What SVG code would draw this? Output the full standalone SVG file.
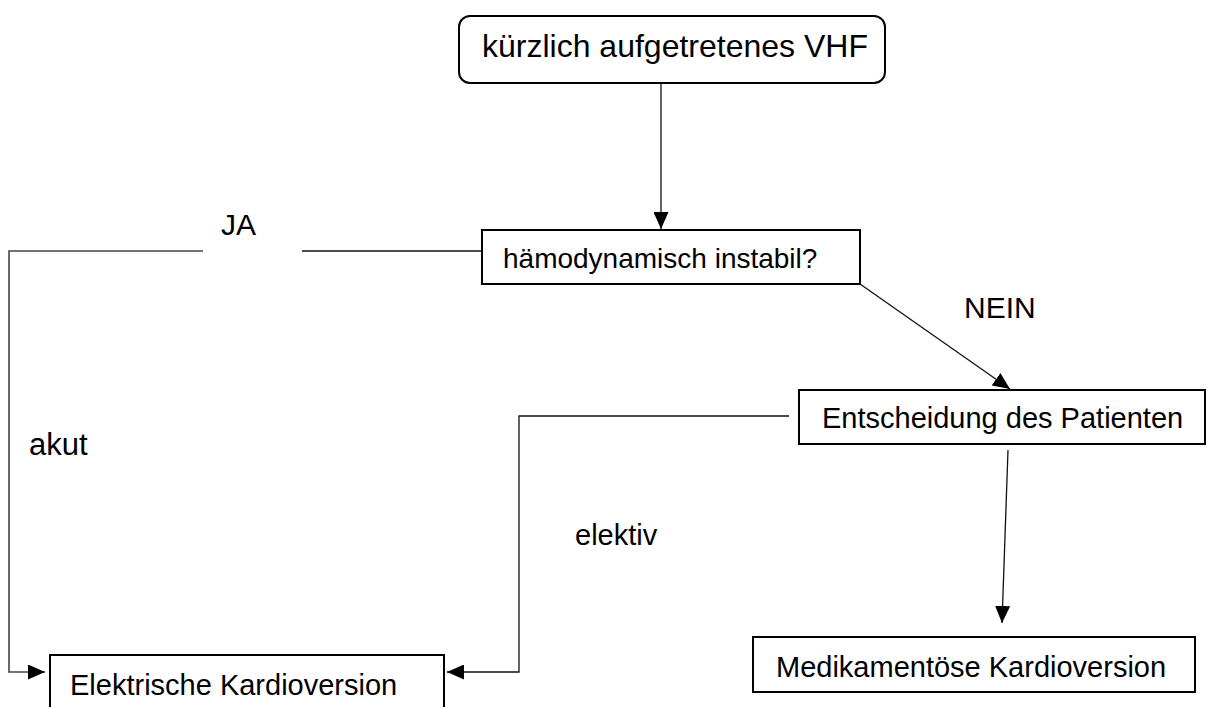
<svg xmlns="http://www.w3.org/2000/svg" width="1214" height="707" viewBox="0 0 1214 707">
<style>
.box{fill:#fff;stroke:#000;stroke-width:2}
.t{font-family:"Liberation Sans",Arial,sans-serif;font-size:29px;fill:#000}
.c{fill:none;stroke:#111;stroke-width:1.3}
</style>
<defs>
<marker id="ah" markerUnits="userSpaceOnUse" markerWidth="17" markerHeight="15" viewBox="0 0 17 15" refX="17" refY="7.5" orient="auto">
<path d="M0,0 L17,7.5 L0,15 z" fill="#000"/>
</marker>
</defs>
<rect width="1214" height="707" fill="#fff"/>
<g id="connectors">
<line class="c" x1="661" y1="84" x2="661" y2="229" marker-end="url(#ah)"/>
<line class="c" x1="860" y1="284" x2="1010" y2="389" marker-end="url(#ah)"/>
<line class="c" x1="1008" y1="450" x2="1002" y2="623" marker-end="url(#ah)"/>
<line class="c" x1="482" y1="251" x2="302" y2="251"/>
<polyline class="c" points="203,251 9,251 9,672 45,672" marker-end="url(#ah)" style="stroke:#444;stroke-width:1.6"/>
<polyline class="c" points="789,416 519,416 519,672 447,672" marker-end="url(#ah)"/>
</g>
<g id="n-vhf">
<rect class="box" x="459" y="16" width="426" height="67" rx="11"/>
<text class="t" x="482" y="57" style="font-size:32px">kürzlich aufgetretenes VHF</text>
</g>
<g id="n-instabil">
<rect class="box" x="482" y="230" width="378" height="54"/>
<text class="t" x="503" y="268" style="font-size:28px">hämodynamisch instabil?</text>
</g>
<g id="n-entscheidung">
<rect class="box" x="799" y="390" width="406" height="54"/>
<text class="t" x="822" y="428">Entscheidung des Patienten</text>
</g>
<g id="n-elektrisch">
<rect class="box" x="50" y="655" width="394" height="70"/>
<text class="t" x="70" y="695">Elektrische Kardioversion</text>
</g>
<g id="n-medikament">
<rect class="box" x="753" y="637" width="442" height="55"/>
<text class="t" x="776" y="677">Medikamentöse Kardioversion</text>
</g>
<g id="labels">
<text class="t" x="221" y="235" style="font-size:30px">JA</text>
<text class="t" x="964" y="318" style="font-size:30px">NEIN</text>
<text class="t" x="29" y="455" style="font-size:31px">akut</text>
<text class="t" x="575" y="545">elektiv</text>
</g>
</svg>
